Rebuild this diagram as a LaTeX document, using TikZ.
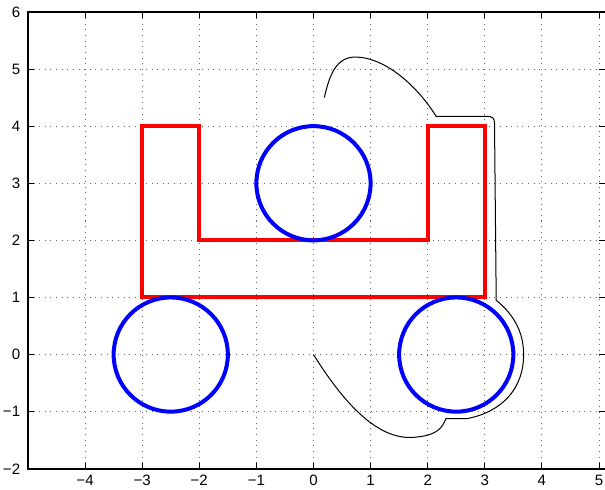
\documentclass[tikz,border=0pt]{standalone}
\usepackage{fontspec}
\setmainfont{Liberation Sans}

\begin{document}
\begin{tikzpicture}[x=1cm,y=1cm,font=\fontsize{7.5}{9}\selectfont]
\useasboundingbox (-5.49,-2.355) rectangle (5.105,6.209);
% grid
\foreach \gx in {-4,...,5}
  \draw[black!60, dash pattern=on 0.5pt off 2.3pt, line width=0.5pt] (\gx,-2) -- (\gx,6);
\foreach \gy in {-1,...,5}
  \draw[black!60, dash pattern=on 0.5pt off 2.3pt, line width=0.5pt] (-5,\gy) -- (5.105,\gy);
% ticks and labels
\foreach \gx in {-4,...,5} {
  \draw[line width=0.5pt] (\gx,-2) -- (\gx,-1.9);
  \draw[line width=0.5pt] (\gx,6) -- (\gx,5.9);
  \node[anchor=base, inner sep=0pt] (xl\gx) at (\gx,-2.3) {\ifnum\gx<0 −\the\numexpr-\gx\relax\else\gx\fi};
}
\foreach \gy in {-2,...,6} {
  \draw[line width=0.5pt] (-5,\gy) -- (-4.9,\gy);
  \draw[line width=0.5pt] (5.105,\gy) -- (5.005,\gy);
  \node[anchor=east, inner sep=0pt] (yl\gy) at (-5.13,\gy) {\ifnum\gy<0 −\the\numexpr-\gy\relax\else\gy\fi};
}
\draw[line width=0.9pt] (5.105,6) -- (-5,6) -- (-5,-2) -- (5.105,-2);
% body
\draw[red, line width=2pt] (-3,1) -- (-3,4) -- (-2,4) -- (-2,2) -- (2,2) -- (2,4) -- (3,4) -- (3,1) -- cycle;
% wheels
\draw[blue, line width=2pt] (0,3) circle (1);
\draw[blue, line width=2pt] (-2.5,0) circle (1);
\draw[blue, line width=2pt] (2.5,0) circle (1);
% outline
\draw[line width=0.5pt] (0,0) .. controls (0.5,-0.8) and (1.1,-1.5) .. (1.75,-1.45)
  .. controls (2.15,-1.42) and (2.25,-1.3) .. (2.32,-1.12) -- (2.7,-1.12)
  .. controls (3.3,-1.0) and (3.68,-0.6) .. (3.68,0)
  .. controls (3.68,0.45) and (3.45,0.75) .. (3.2,0.95)
  -- (3.17,4.05) .. controls (3.17,4.15) and (3.12,4.17) .. (3.05,4.17) -- (2.15,4.17)
  .. controls (1.75,4.8) and (1.2,5.2) .. (0.75,5.21)
  .. controls (0.4,5.22) and (0.28,4.9) .. (0.19,4.5);
\end{tikzpicture}
\end{document}
